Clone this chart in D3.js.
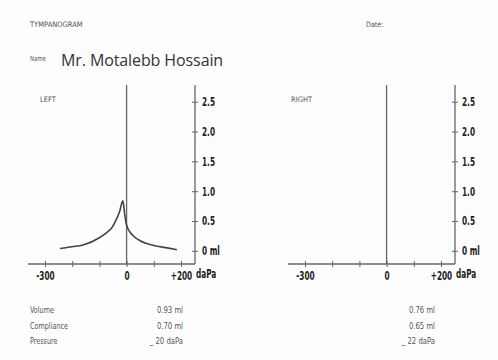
<!DOCTYPE html>
<html><head><meta charset="utf-8">
<script src="https://cdn.jsdelivr.net/npm/d3@7/dist/d3.min.js"></script>
<style>
html,body{margin:0;padding:0;background:#fff;}
svg{display:block;}
</style></head>
<body>
<script>
// ---- data ----
const leftPressure = [-245,-200,-160,-100,-70,-54,-44,-25,-14,-10,-6,-2,0,10,25,50,100,150,185];
const leftCompliance = [0.04,0.07,0.10,0.22,0.32,0.39,0.47,0.67,0.84,0.74,0.58,0.47,0.43,0.33,0.25,0.17,0.09,0.05,0.02];
const yTicks = [0,0.5,1.0,1.5,2.0,2.5];
const yTickLabels = ["0 ml","0.5","1.0","1.5","2.0","2.5"];
const xTicks = [-300,-200,-100,0,100,200];
const xTickLabels = {"-300":"-300","0":"0","200":"+200"};
const panels = ["LEFT","RIGHT"];
const resultLabels = ["Volume","Compliance","Pressure"];
const leftResults = ["0.93 ml","0.70 ml","_ 20 daPa"];
const rightResults = ["0.76 ml","0.65 ml","_ 22 daPa"];
const patientName = "Mr. Motalebb Hossain";

const W=498,H=360;
const svg=d3.select("body").append("svg").attr("width",W).attr("height",H);
svg.append("rect").attr("width",W).attr("height",H).attr("fill","#fdfdfd");

const cond='"DejaVu Sans Condensed","DejaVu Sans",sans-serif';
const axisColor="#666";
const labelColor="#555";

function ctext(g,x,y,str,size,sx,opts){
  const t=g.append("text").attr("transform",`translate(${x},${y}) scale(${sx},1)`)
    .attr("font-family",cond).attr("font-size",size).attr("fill",(opts&&opts.fill)||labelColor).text(str);
  if(opts&&opts.anchor) t.attr("text-anchor",opts.anchor);
  if(opts&&opts.bold) t.attr("font-weight","bold");
  return t;
}

ctext(svg,30,27,"TYMPANOGRAM",7.5,1);
ctext(svg,366,27,"Date:",7.5,0.95);
ctext(svg,30,61,"Name",7,0.85);
svg.append("text").attr("x",61).attr("y",66).attr("font-family",'"Open Sans",sans-serif').attr("font-size",16)
  .attr("fill","#333").attr("letter-spacing",-0.1).text(patientName);

const x=d3.scaleLinear().domain([-362.5,251.5]).range([28,195]);
const y=d3.scaleLinear().domain([-0.22,2.78]).range([264,85]);
const SX=0.68;

panels.forEach((p,i)=>{
  const g=svg.append("g").attr("transform",`translate(${i*260},0)`);
  ctext(g,i===0?40:31,102,p,7.5,1);
  // x axis line
  g.append("line").attr("x1",x.range()[0]).attr("x2",x.range()[1]).attr("y1",y(-0.22)).attr("y2",y(-0.22))
    .attr("stroke",axisColor).attr("stroke-width",1.3);
  // center pressure line
  g.append("line").attr("x1",x(0)).attr("x2",x(0)).attr("y1",y(2.78)).attr("y2",y(-0.22))
    .attr("stroke",axisColor).attr("stroke-width",1.3);
  // y axis
  const ya=g.append("g").attr("transform",`translate(${x(251.5)},0)`)
    .call(d3.axisRight(y).tickValues(yTicks).tickSize(3).tickPadding(4).tickFormat((d,k)=>yTickLabels[k]));
  ya.select(".domain").attr("d",`M0,${y(2.78)}V${y(-0.22)}`).attr("stroke",axisColor).attr("stroke-width",1.3);
  ya.selectAll(".tick line").attr("x1",-3).attr("x2",3).attr("stroke",axisColor);
  ya.selectAll(".tick text").attr("x",7/SX).attr("transform",`scale(${SX},1)`)
    .attr("font-family",cond).attr("font-size",12).attr("font-weight","bold").attr("fill","#222");
  // x axis ticks
  const xa=g.append("g").attr("transform",`translate(0,${y(-0.22)})`)
    .call(d3.axisBottom(x).tickValues(xTicks).tickSize(3).tickPadding(4).tickFormat(d=>xTickLabels[d]||""));
  xa.select(".domain").remove();
  xa.selectAll(".tick line").attr("y1",-3).attr("y2",3).attr("stroke",axisColor);
  xa.selectAll(".tick text").attr("transform",`scale(${SX},1)`)
    .attr("font-family",cond).attr("font-size",12).attr("font-weight","bold").attr("fill","#222");
  ctext(g,x(251.5)+1,278,"daPa",12,SX,{bold:true,fill:"#222"});
  if(i===0){
    const line=d3.line().x((d,k)=>x(leftPressure[k])).y(d=>y(d)).curve(d3.curveMonotoneX);
    g.append("path").attr("d",line(leftCompliance)).attr("fill","none").attr("stroke","#444").attr("stroke-width",1.6);
  }
  const res=i===0?leftResults:rightResults;
  res.forEach((r,k)=>{
    ctext(g,i===0?183:175,313+k*15.5,r,9,0.85,{anchor:"end"});
  });
});
resultLabels.forEach((l,k)=>{
  ctext(svg,30,313+k*15.5,l,9,0.8);
});
</script>
</body></html>
